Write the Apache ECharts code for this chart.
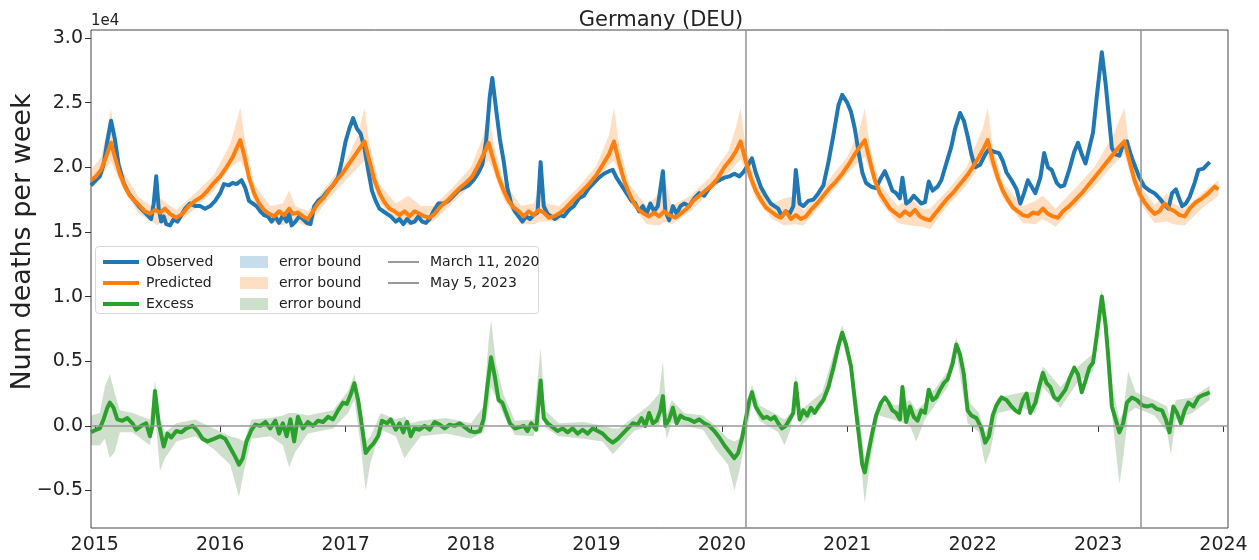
<!DOCTYPE html>
<html><head><meta charset="utf-8">
<script src="https://cdn.jsdelivr.net/npm/echarts@6/dist/echarts.min.js"></script>
<style>html,body{margin:0;padding:0;background:#fff}#c{width:1259px;height:560px}</style>
</head><body><div id="c"></div>
<script>
// ---- data (values in units of 1e4 deaths per week, x in decimal years) ----
const xTicks = [2015,2016,2017,2018,2019,2020,2021,2022,2023,2024];
const yTicks = [-0.5,0,0.5,1.0,1.5,2.0,2.5,3.0];
const marchDate = 2020.191;  // March 11, 2020
const mayDate = 2023.340;    // May 5, 2023

const observed = [[2014.97,1.86],[2015.01,1.90],[2015.04,1.93],[2015.07,2.02],[2015.10,2.20],[2015.13,2.36],[2015.16,2.22],[2015.19,2.02],[2015.23,1.88],[2015.27,1.80],[2015.31,1.75],[2015.35,1.70],[2015.39,1.66],[2015.42,1.63],[2015.45,1.60],[2015.47,1.72],[2015.49,1.93],[2015.51,1.68],[2015.53,1.58],[2015.55,1.62],[2015.57,1.56],[2015.60,1.55],[2015.63,1.60],[2015.66,1.58],[2015.69,1.63],[2015.72,1.68],[2015.76,1.72],[2015.80,1.70],[2015.84,1.70],[2015.88,1.68],[2015.92,1.70],[2015.96,1.74],[2016.00,1.80],[2016.03,1.87],[2016.07,1.86],[2016.10,1.88],[2016.13,1.87],[2016.17,1.90],[2016.20,1.84],[2016.23,1.74],[2016.26,1.72],[2016.29,1.70],[2016.32,1.66],[2016.35,1.63],[2016.38,1.62],[2016.41,1.58],[2016.44,1.62],[2016.47,1.57],[2016.50,1.63],[2016.53,1.58],[2016.55,1.64],[2016.57,1.55],[2016.60,1.58],[2016.63,1.62],[2016.66,1.60],[2016.69,1.57],[2016.72,1.56],[2016.75,1.70],[2016.78,1.74],[2016.82,1.77],[2016.86,1.82],[2016.90,1.86],[2016.94,1.92],[2016.97,2.05],[2017.00,2.20],[2017.03,2.30],[2017.06,2.38],[2017.09,2.30],[2017.12,2.26],[2017.15,2.15],[2017.18,1.98],[2017.21,1.82],[2017.24,1.74],[2017.27,1.68],[2017.30,1.66],[2017.33,1.64],[2017.36,1.62],[2017.40,1.58],[2017.43,1.60],[2017.46,1.56],[2017.49,1.60],[2017.52,1.57],[2017.55,1.58],[2017.58,1.62],[2017.61,1.58],[2017.64,1.57],[2017.67,1.60],[2017.70,1.66],[2017.74,1.72],[2017.78,1.72],[2017.82,1.74],[2017.86,1.78],[2017.90,1.82],[2017.94,1.84],[2017.98,1.86],[2018.02,1.90],[2018.06,1.96],[2018.09,2.02],[2018.12,2.20],[2018.15,2.55],[2018.17,2.69],[2018.20,2.45],[2018.23,2.22],[2018.26,2.05],[2018.29,1.84],[2018.32,1.72],[2018.35,1.66],[2018.38,1.62],[2018.41,1.58],[2018.44,1.62],[2018.47,1.60],[2018.50,1.63],[2018.53,1.65],[2018.555,2.04],[2018.58,1.70],[2018.61,1.64],[2018.64,1.62],[2018.67,1.60],[2018.71,1.63],[2018.74,1.62],[2018.78,1.67],[2018.82,1.70],[2018.86,1.76],[2018.90,1.78],[2018.94,1.84],[2018.98,1.88],[2019.02,1.92],[2019.06,1.95],[2019.10,1.97],[2019.13,1.98],[2019.16,1.92],[2019.20,1.86],[2019.24,1.80],[2019.28,1.74],[2019.31,1.72],[2019.34,1.66],[2019.37,1.70],[2019.40,1.64],[2019.43,1.72],[2019.46,1.66],[2019.49,1.70],[2019.53,1.97],[2019.55,1.66],[2019.58,1.59],[2019.61,1.70],[2019.64,1.64],[2019.67,1.70],[2019.70,1.72],[2019.74,1.70],[2019.78,1.76],[2019.82,1.80],[2019.86,1.78],[2019.90,1.84],[2019.94,1.88],[2019.98,1.90],[2020.02,1.92],[2020.06,1.93],[2020.10,1.95],[2020.14,1.93],[2020.17,1.96],[2020.21,2.02],[2020.24,2.07],[2020.27,1.96],[2020.31,1.85],[2020.35,1.78],[2020.39,1.72],[2020.42,1.70],[2020.45,1.68],[2020.48,1.62],[2020.51,1.66],[2020.54,1.64],[2020.57,1.70],[2020.59,1.98],[2020.62,1.72],[2020.65,1.70],[2020.69,1.74],[2020.73,1.75],[2020.77,1.80],[2020.81,1.86],[2020.85,2.04],[2020.89,2.25],[2020.93,2.48],[2020.96,2.56],[2021.00,2.50],[2021.03,2.43],[2021.06,2.30],[2021.09,2.12],[2021.12,1.96],[2021.15,1.88],[2021.19,1.85],[2021.23,1.84],[2021.27,1.92],[2021.30,1.97],[2021.33,1.90],[2021.36,1.82],[2021.39,1.80],[2021.42,1.76],[2021.44,1.92],[2021.47,1.72],[2021.50,1.74],[2021.53,1.78],[2021.56,1.75],[2021.59,1.72],[2021.62,1.73],[2021.65,1.89],[2021.68,1.82],[2021.72,1.85],[2021.75,1.90],[2021.79,2.03],[2021.83,2.16],[2021.86,2.30],[2021.90,2.42],[2021.93,2.36],[2021.96,2.24],[2021.99,2.10],[2022.02,2.00],[2022.06,2.02],[2022.10,2.10],[2022.13,2.14],[2022.17,2.12],[2022.21,2.11],[2022.24,2.05],[2022.27,1.96],[2022.31,1.90],[2022.35,1.83],[2022.38,1.72],[2022.41,1.80],[2022.44,1.90],[2022.47,1.85],[2022.50,1.80],[2022.54,1.92],[2022.57,2.11],[2022.60,2.00],[2022.63,1.98],[2022.67,1.88],[2022.70,1.85],[2022.73,1.86],[2022.77,1.98],[2022.81,2.12],[2022.84,2.19],[2022.87,2.10],[2022.90,2.03],[2022.93,2.15],[2022.96,2.27],[2022.99,2.55],[2023.03,2.89],[2023.06,2.65],[2023.08,2.45],[2023.11,2.15],[2023.14,2.10],[2023.17,2.09],[2023.20,2.18],[2023.23,2.20],[2023.26,2.10],[2023.29,2.02],[2023.33,1.92],[2023.37,1.85],[2023.41,1.82],[2023.45,1.80],[2023.49,1.76],[2023.53,1.71],[2023.56,1.68],[2023.59,1.80],[2023.62,1.83],[2023.65,1.75],[2023.67,1.70],[2023.70,1.72],[2023.73,1.77],[2023.77,1.88],[2023.80,1.98],[2023.84,1.99],[2023.87,2.02],[2023.89,2.04]];

const predicted = [[2014.97,1.90],[2015.01,1.93],[2015.05,1.98],[2015.09,2.08],[2015.13,2.19],[2015.16,2.08],[2015.20,1.95],[2015.24,1.85],[2015.28,1.78],[2015.32,1.74],[2015.36,1.70],[2015.40,1.66],[2015.44,1.64],[2015.48,1.67],[2015.52,1.65],[2015.56,1.68],[2015.60,1.64],[2015.65,1.61],[2015.70,1.64],[2015.75,1.70],[2015.80,1.74],[2015.85,1.77],[2015.90,1.82],[2015.95,1.88],[2016.00,1.93],[2016.05,2.00],[2016.10,2.08],[2016.16,2.21],[2016.19,2.10],[2016.23,1.92],[2016.27,1.80],[2016.31,1.72],[2016.35,1.67],[2016.39,1.64],[2016.43,1.62],[2016.47,1.66],[2016.51,1.63],[2016.55,1.68],[2016.58,1.64],[2016.62,1.65],[2016.66,1.62],[2016.70,1.60],[2016.74,1.66],[2016.78,1.72],[2016.83,1.77],[2016.88,1.84],[2016.93,1.90],[2016.98,1.96],[2017.03,2.03],[2017.08,2.10],[2017.15,2.20],[2017.19,2.05],[2017.23,1.90],[2017.27,1.80],[2017.31,1.73],[2017.35,1.68],[2017.39,1.66],[2017.43,1.63],[2017.47,1.66],[2017.51,1.62],[2017.55,1.66],[2017.59,1.64],[2017.63,1.62],[2017.67,1.61],[2017.71,1.64],[2017.76,1.70],[2017.81,1.74],[2017.86,1.79],[2017.91,1.84],[2017.96,1.88],[2018.01,1.93],[2018.06,2.02],[2018.10,2.10],[2018.14,2.19],[2018.18,2.05],[2018.22,1.92],[2018.26,1.82],[2018.30,1.74],[2018.34,1.69],[2018.38,1.66],[2018.42,1.62],[2018.46,1.66],[2018.50,1.63],[2018.54,1.67],[2018.58,1.65],[2018.62,1.61],[2018.66,1.62],[2018.70,1.64],[2018.75,1.68],[2018.80,1.73],[2018.85,1.78],[2018.90,1.83],[2018.95,1.88],[2019.00,1.94],[2019.05,2.02],[2019.10,2.10],[2019.14,2.20],[2019.18,2.04],[2019.22,1.90],[2019.26,1.80],[2019.30,1.72],[2019.34,1.67],[2019.38,1.64],[2019.42,1.62],[2019.46,1.65],[2019.50,1.62],[2019.54,1.66],[2019.58,1.63],[2019.63,1.61],[2019.67,1.64],[2019.72,1.68],[2019.77,1.74],[2019.82,1.78],[2019.87,1.82],[2019.92,1.86],[2019.97,1.92],[2020.02,2.00],[2020.07,2.06],[2020.11,2.12],[2020.15,2.20],[2020.19,2.05],[2020.23,1.92],[2020.27,1.82],[2020.31,1.75],[2020.35,1.69],[2020.39,1.66],[2020.43,1.63],[2020.47,1.61],[2020.51,1.66],[2020.55,1.60],[2020.59,1.63],[2020.63,1.60],[2020.67,1.62],[2020.71,1.67],[2020.76,1.72],[2020.81,1.78],[2020.86,1.84],[2020.91,1.89],[2020.96,1.95],[2021.01,2.02],[2021.06,2.10],[2021.10,2.16],[2021.14,2.21],[2021.18,2.05],[2021.22,1.90],[2021.26,1.80],[2021.30,1.74],[2021.34,1.68],[2021.38,1.65],[2021.42,1.62],[2021.46,1.66],[2021.50,1.63],[2021.54,1.67],[2021.58,1.62],[2021.62,1.60],[2021.66,1.59],[2021.70,1.64],[2021.75,1.70],[2021.80,1.76],[2021.85,1.81],[2021.90,1.87],[2021.95,1.93],[2022.00,2.00],[2022.05,2.08],[2022.09,2.15],[2022.12,2.21],[2022.16,2.05],[2022.20,1.92],[2022.24,1.82],[2022.28,1.75],[2022.32,1.69],[2022.36,1.66],[2022.40,1.63],[2022.44,1.62],[2022.48,1.65],[2022.52,1.64],[2022.56,1.68],[2022.60,1.64],[2022.64,1.62],[2022.68,1.61],[2022.72,1.66],[2022.77,1.70],[2022.82,1.75],[2022.87,1.80],[2022.92,1.86],[2022.97,1.92],[2023.02,1.98],[2023.07,2.04],[2023.12,2.10],[2023.17,2.16],[2023.21,2.20],[2023.25,2.05],[2023.29,1.90],[2023.33,1.80],[2023.37,1.73],[2023.41,1.68],[2023.45,1.64],[2023.49,1.66],[2023.53,1.72],[2023.57,1.68],[2023.61,1.66],[2023.65,1.63],[2023.69,1.62],[2023.73,1.68],[2023.78,1.73],[2023.83,1.76],[2023.88,1.80],[2023.93,1.85],[2023.96,1.83]];

const excess = [[2014.97,-0.05],[2015.01,-0.03],[2015.04,-0.02],[2015.07,0.05],[2015.10,0.14],[2015.12,0.18],[2015.15,0.14],[2015.18,0.05],[2015.22,0.04],[2015.26,0.06],[2015.30,0.02],[2015.33,-0.03],[2015.37,0.00],[2015.41,0.02],[2015.44,-0.08],[2015.46,0.00],[2015.48,0.27],[2015.51,0.02],[2015.55,-0.16],[2015.58,-0.06],[2015.61,-0.09],[2015.65,-0.04],[2015.69,-0.05],[2015.73,-0.02],[2015.78,0.00],[2015.82,-0.04],[2015.86,-0.10],[2015.90,-0.12],[2015.95,-0.10],[2016.00,-0.08],[2016.04,-0.10],[2016.08,-0.17],[2016.12,-0.24],[2016.15,-0.30],[2016.18,-0.25],[2016.21,-0.12],[2016.25,-0.03],[2016.28,0.01],[2016.32,0.00],[2016.36,0.03],[2016.40,-0.02],[2016.44,0.04],[2016.47,-0.06],[2016.50,0.02],[2016.53,-0.08],[2016.56,0.05],[2016.59,-0.12],[2016.62,0.07],[2016.66,-0.02],[2016.70,0.03],[2016.74,0.00],[2016.78,0.04],[2016.82,0.03],[2016.86,0.07],[2016.90,0.05],[2016.94,0.12],[2016.98,0.18],[2017.01,0.17],[2017.04,0.24],[2017.07,0.33],[2017.10,0.20],[2017.13,0.00],[2017.16,-0.21],[2017.19,-0.17],[2017.22,-0.14],[2017.26,-0.08],[2017.29,0.04],[2017.33,0.02],[2017.36,0.05],[2017.40,-0.03],[2017.43,0.02],[2017.46,-0.05],[2017.49,0.03],[2017.52,-0.08],[2017.55,-0.02],[2017.59,-0.03],[2017.63,0.00],[2017.67,-0.03],[2017.71,0.03],[2017.75,0.01],[2017.79,-0.02],[2017.83,0.01],[2017.87,0.00],[2017.91,0.02],[2017.95,-0.01],[2017.99,-0.04],[2018.03,-0.05],[2018.07,-0.04],[2018.10,0.05],[2018.13,0.30],[2018.16,0.53],[2018.19,0.38],[2018.22,0.20],[2018.25,0.18],[2018.28,0.10],[2018.31,0.02],[2018.35,-0.02],[2018.39,-0.01],[2018.42,0.00],[2018.45,-0.04],[2018.48,0.02],[2018.52,-0.03],[2018.555,0.35],[2018.58,0.06],[2018.61,0.02],[2018.65,-0.01],[2018.69,-0.04],[2018.73,-0.02],[2018.77,-0.05],[2018.81,-0.02],[2018.85,-0.06],[2018.89,-0.03],[2018.93,-0.06],[2018.97,-0.02],[2019.01,-0.04],[2019.05,-0.06],[2019.09,-0.10],[2019.13,-0.13],[2019.17,-0.10],[2019.21,-0.06],[2019.25,-0.02],[2019.29,0.02],[2019.33,0.01],[2019.36,0.06],[2019.39,0.00],[2019.42,0.10],[2019.45,0.02],[2019.48,0.04],[2019.51,0.12],[2019.53,0.23],[2019.55,0.00],[2019.58,0.05],[2019.61,0.14],[2019.64,0.02],[2019.67,0.08],[2019.70,0.06],[2019.74,0.05],[2019.78,0.03],[2019.82,0.05],[2019.86,0.02],[2019.90,0.00],[2019.94,-0.04],[2019.98,-0.09],[2020.02,-0.15],[2020.06,-0.20],[2020.10,-0.25],[2020.13,-0.21],[2020.16,-0.10],[2020.19,0.05],[2020.22,0.20],[2020.24,0.26],[2020.27,0.15],[2020.30,0.10],[2020.33,0.06],[2020.36,0.07],[2020.39,0.05],[2020.42,0.07],[2020.45,0.02],[2020.48,-0.02],[2020.51,0.00],[2020.54,0.05],[2020.57,0.10],[2020.59,0.33],[2020.62,0.05],[2020.65,0.12],[2020.68,0.08],[2020.71,0.14],[2020.74,0.10],[2020.77,0.15],[2020.81,0.20],[2020.85,0.30],[2020.89,0.45],[2020.93,0.62],[2020.96,0.72],[2020.99,0.63],[2021.03,0.46],[2021.06,0.20],[2021.09,-0.05],[2021.12,-0.30],[2021.14,-0.36],[2021.17,-0.20],[2021.20,-0.05],[2021.23,0.08],[2021.27,0.18],[2021.30,0.22],[2021.33,0.18],[2021.36,0.12],[2021.39,0.10],[2021.42,0.05],[2021.44,0.30],[2021.47,0.03],[2021.50,0.15],[2021.53,0.07],[2021.56,0.04],[2021.59,0.12],[2021.62,0.10],[2021.65,0.28],[2021.68,0.20],[2021.71,0.22],[2021.74,0.28],[2021.77,0.33],[2021.80,0.36],[2021.84,0.48],[2021.87,0.63],[2021.90,0.55],[2021.93,0.40],[2021.96,0.12],[2021.99,0.08],[2022.03,0.06],[2022.07,-0.02],[2022.10,-0.13],[2022.13,-0.08],[2022.16,0.08],[2022.19,0.16],[2022.23,0.22],[2022.27,0.20],[2022.31,0.15],[2022.34,0.12],[2022.37,0.10],[2022.40,0.20],[2022.43,0.25],[2022.46,0.10],[2022.50,0.18],[2022.53,0.30],[2022.56,0.41],[2022.59,0.33],[2022.62,0.30],[2022.65,0.22],[2022.68,0.20],[2022.71,0.24],[2022.74,0.28],[2022.77,0.36],[2022.81,0.45],[2022.84,0.40],[2022.87,0.26],[2022.90,0.35],[2022.93,0.45],[2022.96,0.49],[2022.99,0.70],[2023.03,1.00],[2023.06,0.78],[2023.08,0.55],[2023.11,0.15],[2023.14,0.05],[2023.17,-0.05],[2023.20,0.02],[2023.23,0.18],[2023.27,0.22],[2023.31,0.20],[2023.35,0.16],[2023.39,0.15],[2023.43,0.16],[2023.47,0.13],[2023.51,0.12],[2023.54,0.05],[2023.57,-0.05],[2023.60,0.15],[2023.63,0.10],[2023.66,0.02],[2023.69,0.12],[2023.72,0.18],[2023.76,0.15],[2023.80,0.22],[2023.84,0.24],[2023.87,0.25],[2023.89,0.26]];

// error bounds: [x, lower, upper]
const predBand = [[2014.97,1.85,1.98],[2015.05,1.92,2.08],[2015.10,2.00,2.30],[2015.13,2.05,2.46],[2015.16,1.98,2.20],[2015.22,1.85,1.98],[2015.35,1.64,1.77],[2015.45,1.58,1.70],[2015.50,1.55,1.78],[2015.55,1.60,1.74],[2015.65,1.56,1.67],[2015.80,1.68,1.80],[2015.95,1.82,1.94],[2016.08,2.00,2.18],[2016.16,2.05,2.46],[2016.20,1.98,2.20],[2016.27,1.73,1.87],[2016.40,1.58,1.70],[2016.50,1.55,1.72],[2016.55,1.58,1.82],[2016.60,1.58,1.70],[2016.70,1.54,1.66],[2016.85,1.74,1.86],[2017.00,1.90,2.04],[2017.10,2.00,2.25],[2017.15,2.05,2.46],[2017.19,1.95,2.18],[2017.27,1.73,1.87],[2017.40,1.58,1.72],[2017.50,1.55,1.78],[2017.60,1.58,1.70],[2017.70,1.58,1.70],[2017.85,1.72,1.84],[2018.00,1.86,2.00],[2018.10,2.02,2.25],[2018.14,2.05,2.46],[2018.18,1.97,2.18],[2018.26,1.75,1.89],[2018.40,1.56,1.70],[2018.50,1.56,1.72],[2018.55,1.58,1.85],[2018.60,1.58,1.72],[2018.70,1.58,1.70],[2018.85,1.72,1.84],[2019.00,1.88,2.01],[2019.10,2.02,2.25],[2019.14,2.05,2.46],[2019.18,1.96,2.18],[2019.26,1.74,1.87],[2019.40,1.56,1.70],[2019.50,1.55,1.80],[2019.55,1.58,1.90],[2019.60,1.56,1.70],[2019.75,1.66,1.78],[2019.90,1.80,1.92],[2020.05,1.95,2.12],[2020.11,2.02,2.30],[2020.15,2.06,2.46],[2020.19,1.97,2.16],[2020.27,1.76,1.88],[2020.40,1.60,1.72],[2020.50,1.55,1.76],[2020.58,1.56,1.78],[2020.65,1.55,1.66],[2020.80,1.72,1.84],[2021.00,1.95,2.08],[2021.10,2.05,2.30],[2021.14,2.08,2.46],[2021.18,1.97,2.16],[2021.26,1.74,1.87],[2021.40,1.57,1.70],[2021.50,1.55,1.76],[2021.60,1.54,1.68],[2021.66,1.52,1.68],[2021.80,1.70,1.82],[2021.95,1.86,2.00],[2022.08,2.05,2.30],[2022.12,2.08,2.46],[2022.16,1.97,2.16],[2022.24,1.76,1.88],[2022.40,1.57,1.70],[2022.50,1.56,1.74],[2022.56,1.60,1.78],[2022.66,1.54,1.68],[2022.80,1.68,1.82],[2022.97,1.85,2.00],[2023.12,2.02,2.25],[2023.21,2.10,2.46],[2023.25,1.97,2.15],[2023.33,1.73,1.87],[2023.45,1.57,1.71],[2023.55,1.58,1.80],[2023.60,1.56,1.72],[2023.69,1.55,1.68],[2023.85,1.70,1.82],[2023.96,1.78,1.90]];

const excessBand = [[2014.97,-0.15,0.08],[2015.04,-0.15,0.10],[2015.08,-0.10,0.30],[2015.12,-0.25,0.40],[2015.16,-0.20,0.25],[2015.20,-0.05,0.12],[2015.30,-0.05,0.10],[2015.44,-0.15,0.05],[2015.48,0.10,0.35],[2015.52,-0.35,0.06],[2015.56,-0.25,-0.05],[2015.65,-0.12,0.02],[2015.80,-0.08,0.05],[2015.95,-0.18,-0.02],[2016.08,-0.30,-0.08],[2016.15,-0.55,-0.10],[2016.19,-0.35,-0.12],[2016.25,-0.10,0.05],[2016.40,-0.08,0.06],[2016.50,-0.15,0.08],[2016.55,-0.32,0.10],[2016.60,-0.20,0.10],[2016.70,-0.06,0.08],[2016.90,-0.02,0.12],[2017.02,0.10,0.27],[2017.07,0.20,0.40],[2017.12,-0.15,0.15],[2017.16,-0.50,-0.12],[2017.20,-0.28,-0.08],[2017.28,-0.03,0.10],[2017.40,-0.08,0.05],[2017.47,-0.25,0.07],[2017.52,-0.18,0.02],[2017.60,-0.08,0.04],[2017.80,-0.06,0.06],[2018.00,-0.10,0.02],[2018.10,-0.05,0.15],[2018.14,0.15,0.65],[2018.16,0.30,0.82],[2018.20,0.22,0.48],[2018.26,0.08,0.24],[2018.35,-0.07,0.04],[2018.50,-0.08,0.05],[2018.555,0.20,0.60],[2018.59,-0.01,0.12],[2018.70,-0.08,0.02],[2018.90,-0.10,0.03],[2019.05,-0.12,0.00],[2019.13,-0.22,-0.02],[2019.18,-0.17,-0.02],[2019.30,-0.04,0.07],[2019.42,0.00,0.16],[2019.50,0.00,0.25],[2019.53,0.10,0.50],[2019.56,-0.10,0.08],[2019.60,0.02,0.20],[2019.70,0.00,0.10],[2019.85,-0.03,0.08],[2019.95,-0.18,0.00],[2020.05,-0.30,-0.10],[2020.10,-0.50,-0.12],[2020.14,-0.35,-0.10],[2020.20,-0.05,0.12],[2020.24,0.18,0.32],[2020.30,0.04,0.16],[2020.45,-0.05,0.08],[2020.50,-0.15,0.05],[2020.55,-0.02,0.10],[2020.59,0.25,0.40],[2020.63,0.00,0.12],[2020.80,0.14,0.26],[2020.96,0.66,0.78],[2021.03,0.40,0.52],[2021.10,-0.20,0.05],[2021.14,-0.60,-0.25],[2021.18,-0.30,-0.12],[2021.25,0.08,0.18],[2021.40,0.04,0.16],[2021.50,0.00,0.20],[2021.55,-0.12,0.12],[2021.62,0.05,0.18],[2021.80,0.30,0.42],[2021.87,0.57,0.69],[2021.96,0.02,0.20],[2022.05,-0.05,0.10],[2022.10,-0.30,-0.05],[2022.14,-0.20,0.02],[2022.20,0.10,0.22],[2022.40,0.14,0.26],[2022.50,0.10,0.26],[2022.56,0.30,0.46],[2022.70,0.14,0.30],[2022.84,0.34,0.46],[2022.96,0.42,0.56],[2023.03,0.94,1.06],[2023.08,0.45,0.65],[2023.12,0.00,0.28],[2023.17,-0.45,0.05],[2023.20,-0.25,0.10],[2023.24,0.10,0.42],[2023.30,0.14,0.26],[2023.45,0.08,0.20],[2023.55,-0.05,0.15],[2023.58,-0.22,0.02],[2023.62,0.05,0.20],[2023.75,0.10,0.22],[2023.89,0.20,0.31]];

// ---- chart ----
const FONT = 'DejaVu Sans';
const C_OBS = '#1f77b4', C_PRED = '#ff7f0e', C_EXC = '#2ca02c';
const C_BAND_OBS = 'rgba(31,119,180,0.25)', C_BAND_PRED = 'rgba(255,127,14,0.25)', C_BAND_EXC = 'rgba(60,130,50,0.25)';

function bandSeries(name, band, color) {
  return {
    type: 'custom', name: name, data: band, encode: {x: 0, y: [1, 2]},
    itemStyle: {color: color}, z: 1, silent: true, clip: true,
    renderItem: function (params, api) {
      if (params.dataIndex !== 0) return null;
      const pts = [];
      for (let i = 0; i < band.length; i++) pts.push(api.coord([band[i][0], band[i][2]]));
      for (let i = band.length - 1; i >= 0; i--) pts.push(api.coord([band[i][0], band[i][1]]));
      return {type: 'polygon', shape: {points: pts}, style: {fill: color}};
    }
  };
}

const chart = echarts.init(document.getElementById('c'), null, {renderer: 'canvas'});
chart.setOption({
  animation: false,
  backgroundColor: '#fff',
  textStyle: {fontFamily: FONT},
  title: {text: 'Germany (DEU)', left: 656, top: 5, textAlign: 'center',
          textStyle: {fontFamily: FONT, fontSize: 21, fontWeight: 'normal', color: '#222'}},
  grid: {left: 91, right: 31, top: 30, bottom: 32, show: true, borderColor: '#444', borderWidth: 1,
         backgroundColor: 'transparent', containLabel: false, outerBoundsMode: 'none'},
  xAxis: {
    type: 'value', min: 2014.97, max: 2024.036,
    axisLine: {show: false},
    axisTick: {show: true, length: 6, lineStyle: {color: '#333'}, customValues: xTicks},
    axisLabel: {customValues: xTicks, fontSize: 19, color: '#222', fontFamily: FONT, margin: 8,
                formatter: v => String(Math.round(v))},
    splitLine: {show: false}
  },
  yAxis: {
    type: 'value', min: -0.79, max: 3.062,
    axisLine: {show: false},
    axisTick: {show: true, length: 6, lineStyle: {color: '#333'}, customValues: yTicks},
    axisLabel: {customValues: yTicks, fontSize: 19, color: '#222', fontFamily: FONT, margin: 8,
                formatter: v => (v < 0 ? '\u2212' : '') + Math.abs(v).toFixed(1)},
    splitLine: {show: false}
  },
  graphic: [
    {type: 'text', x: 23, y: 242, rotation: Math.PI / 2,
     style: {text: 'Num deaths per week', font: '27px "DejaVu Sans"', fill: '#222', align: 'center', verticalAlign: 'middle'}},
    {type: 'text', left: 91, top: 14, style: {text: '1e4', font: '15px "DejaVu Sans"', fill: '#222'}},
    {type: 'rect', left: 95, top: 246, shape: {width: 443, height: 67, r: 3},
     style: {fill: 'rgba(255,255,255,0.85)', stroke: '#d8d8d8', lineWidth: 1}, z: 5}
  ],
  legend: [
    {data: ['Observed', 'Predicted', 'Excess'], orient: 'vertical', left: 98, top: 249,
     icon: 'rect', itemWidth: 36, itemHeight: 4, itemGap: 5, selectedMode: false, z: 10,
     textStyle: {fontSize: 14, color: '#222', fontFamily: FONT, lineHeight: 16, padding: [0, 0, 0, 2]}},
    {data: ['error bound', 'error bound ', 'error bound  '], orient: 'vertical', left: 235, top: 249,
     icon: 'rect', itemWidth: 28, itemHeight: 12, itemGap: 5, selectedMode: false, z: 10,
     formatter: n => n.trim(),
     textStyle: {fontSize: 14, color: '#222', fontFamily: FONT, lineHeight: 16, padding: [0, 0, 0, 6]}},
    {data: ['March 11, 2020', 'May 5, 2023'], orient: 'vertical', left: 383, top: 249,
     icon: 'rect', itemWidth: 31, itemHeight: 2, itemGap: 5, selectedMode: false, z: 10,
     textStyle: {fontSize: 14, color: '#222', fontFamily: FONT, lineHeight: 16, padding: [0, 0, 0, 6]}}
  ],
  series: [
    bandSeries('error bound', [], C_BAND_OBS),
    bandSeries('error bound ', predBand, C_BAND_PRED),
    bandSeries('error bound  ', excessBand, C_BAND_EXC),
    {type: 'line', name: 'March 11, 2020', data: [], color: '#999', z: 3,
     markLine: {silent: true, symbol: 'none', label: {show: false},
                lineStyle: {color: '#999', width: 1.6, type: 'solid'}, data: [{xAxis: marchDate}]}},
    {type: 'line', name: 'May 5, 2023', data: [], color: '#999', z: 3,
     markLine: {silent: true, symbol: 'none', label: {show: false},
                lineStyle: {color: '#999', width: 1.6, type: 'solid'}, data: [{xAxis: mayDate}]}},
    {type: 'line', name: 'Observed', data: observed, color: C_OBS, showSymbol: false, z: 4,
     lineStyle: {width: 4, color: C_OBS, join: 'round'}},
    {type: 'line', name: 'Predicted', data: predicted, color: C_PRED, showSymbol: false, z: 5,
     lineStyle: {width: 4, color: C_PRED, join: 'round'}},
    {type: 'line', name: 'Excess', data: excess, color: C_EXC, showSymbol: false, z: 4,
     lineStyle: {width: 4, color: C_EXC, join: 'round'},
     markLine: {silent: true, symbol: 'none', label: {show: false}, z: 6,
                lineStyle: {color: '#999', width: 1.6, type: 'solid'}, data: [{yAxis: 0}]}}
  ]
});
</script>
</body></html>
